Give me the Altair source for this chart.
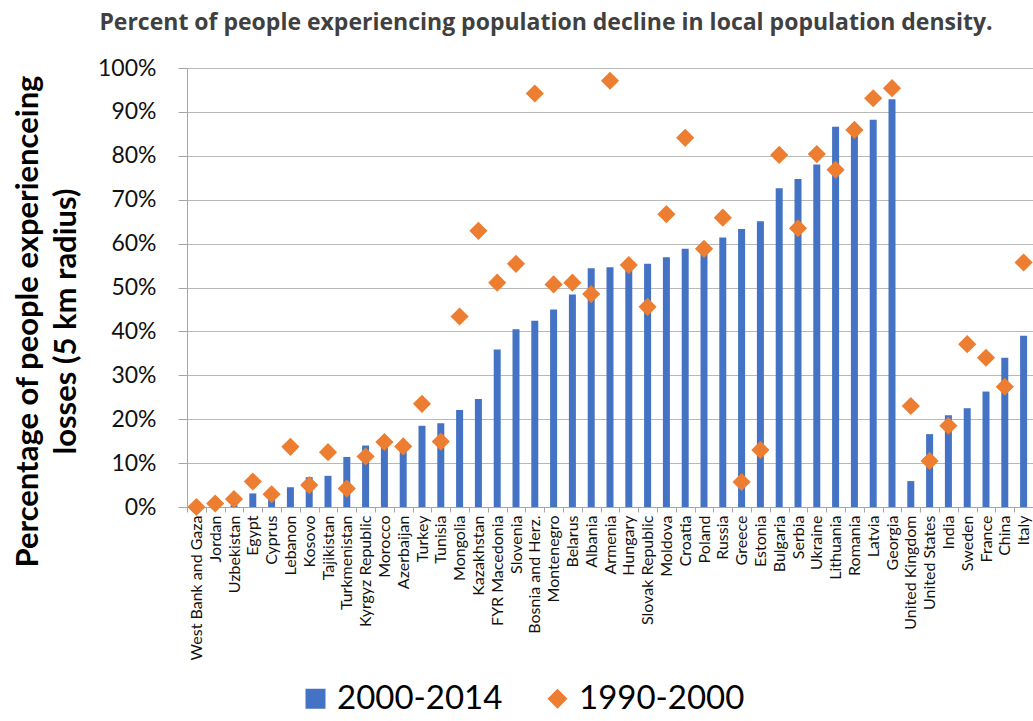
import altair as alt
import pandas as pd

countries = ["West Bank and Gaza", "Jordan", "Uzbekistan", "Egypt", "Cyprus", "Lebanon", "Kosovo",
             "Tajikistan", "Turkmenistan", "Kyrgyz Republic", "Morocco", "Azerbaijan", "Turkey",
             "Tunisia", "Mongolia", "Kazakhstan", "FYR Macedonia", "Slovenia", "Bosnia and Herz.",
             "Montenegro", "Belarus", "Albania", "Armenia", "Hungary", "Slovak Republic", "Moldova",
             "Croatia", "Poland", "Russia", "Greece", "Estonia", "Bulgaria", "Serbia", "Ukraine",
             "Lithuania", "Romania", "Latvia", "Georgia", "United Kingdom", "United States", "India",
             "Sweden", "France", "China", "Italy"]

# percent values
v2000_2014 = [0.0, 0.0, 0.4, 3.1, 1.8, 4.5, 6.8, 7.1, 11.4, 14.0, 14.6, 13.6, 18.5, 19.1, 22.1,
              24.6, 35.9, 40.5, 42.4, 45.0, 48.4, 54.4, 54.6, 54.5, 55.4, 56.9, 58.8, 58.4, 61.4,
              63.3, 65.1, 72.6, 74.7, 78.0, 86.6, 85.0, 88.2, 92.9, 5.9, 16.6, 20.9, 22.5, 26.3,
              34.0, 39.0]
v1990_2000 = [0.0, 0.8, 1.8, 5.8, 2.9, 13.7, 5.0, 12.5, 4.2, 11.5, 14.8, 13.8, 23.5, 14.9, 43.4,
              62.9, 51.1, 55.4, 94.2, 50.7, 51.1, 48.5, 97.1, 55.1, 45.6, 66.7, 84.1, 58.8, 65.9,
              5.7, 13.0, 80.2, 63.5, 80.4, 76.8, 85.9, 93.1, 95.4, 23.0, 10.5, 18.5, 37.1, 34.0,
              27.4, 55.7]

series_names = ["2000-2014", "1990-2000"]
series_colors = ["#4472C4", "#ED7D31"]
series_shapes = ["square", "diamond"]

assert len(countries) == len(v2000_2014) == len(v1990_2000)

df = pd.DataFrame({
    "country": countries * 2,
    "value": [v / 100 for v in v2000_2014] + [v / 100 for v in v1990_2000],
    "series": [series_names[0]] * len(countries) + [series_names[1]] * len(countries),
})

FONT = "Lato"
GRAY = "#a6a6a6"

x = alt.X("country:N", sort=countries, title=None,
          scale=alt.Scale(paddingInner=0, paddingOuter=0),
          axis=alt.Axis(labelAngle=-90, labelFont=FONT, labelFontSize=16, labelColor="#111111",
                        labelPadding=3, tickBand="extent", tickSize=5, tickColor=GRAY,
                        domainColor=GRAY, labelOverlap=False, labelLimit=300))
y = alt.Y("value:Q", title=["Percentage of people experienceing", "losses (5 km radius)"],
          scale=alt.Scale(domain=[0, 1], nice=False),
          axis=alt.Axis(values=[i / 10 for i in range(11)], format=".0%", labelFont=FONT,
                        labelFontSize=23, labelColor="#111111", labelPadding=22, tickSize=9,
                        tickColor=GRAY, domainColor=GRAY, gridColor="#b8b8b8",
                        titleFont=FONT, titleFontSize=31, titleFontWeight="bold",
                        titleColor="#000000", titleAngle=270, titleX=-174, titleY=253,
                        titleAlign="center", titleBaseline="top", titleLineHeight=38,
                        titleLimit=1000))

legend = alt.Legend(title=None, orient="none", legendX=112, legendY=614, direction="horizontal",
                    labelFont=FONT, labelFontSize=33, labelColor="#000000", symbolSize=400,
                    labelOffset=5, columnPadding=38, padding=0, symbolStrokeWidth=0,
                    labelLimit=500)

color = alt.Color("series:N", scale=alt.Scale(domain=series_names, range=series_colors), legend=legend)
shape = alt.Shape("series:N", scale=alt.Scale(domain=series_names, range=series_shapes), legend=legend)

base = alt.Chart(df)
bars = base.transform_filter(alt.datum.series == series_names[0]).mark_bar(size=7).encode(
    x=x, y=y, color=color)
points = base.transform_filter(alt.datum.series == series_names[1]).mark_point(
    filled=True, size=330, opacity=1).encode(x=x, y=y, color=color, shape=shape)

chart = alt.layer(bars, points).properties(
    width=846, height=439,
    autosize="none",
    padding={"left": 187, "top": 68, "right": 0, "bottom": 209},
    title=alt.TitleParams(
        "Percent of people experiencing population decline in local population density.",
        font="Open Sans", fontSize=23, fontWeight="bold", color="#404040", anchor="middle",
        dx=-64, offset=22, limit=1200),
).configure_view(stroke=None)

chart.save("out.html", embed_options={"renderer": "svg", "actions": False})
